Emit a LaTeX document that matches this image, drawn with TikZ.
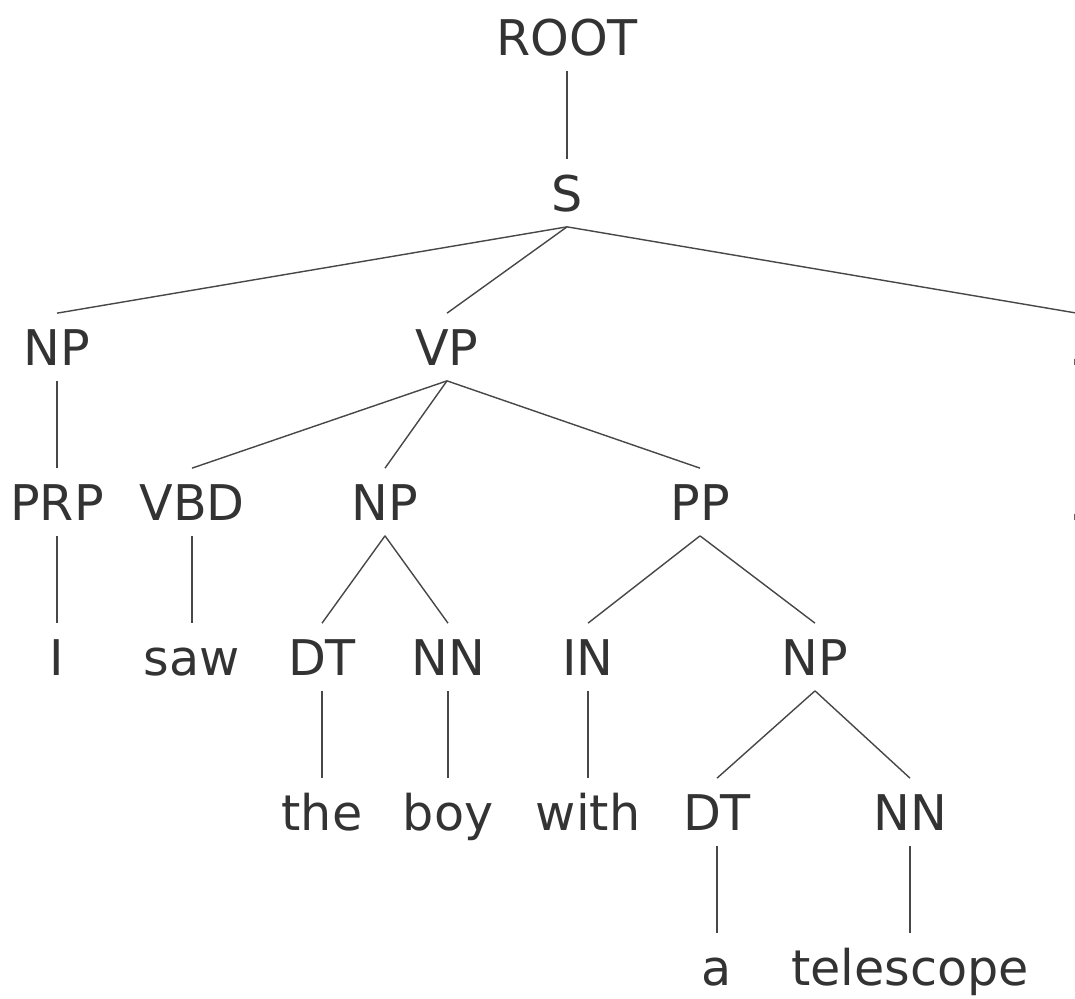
\documentclass[tikz,border=0pt]{standalone}
\usepackage{fontspec}
\setmainfont{DejaVu Sans}
\usetikzlibrary{positioning}
\definecolor{treeink}{HTML}{333333}

\begin{document}
\begin{tikzpicture}
    [
      x=0.02cm,
      y=-0.02cm,
      cat/.style=
        {
          inner xsep=0pt,
          inner ysep=0.31cm,
          text height=0.72cm,
          text depth=0pt,
          text=treeink,
          font=\fontsize{28}{34}\selectfont,
        },
      branch/.style=
        {
          draw=treeink!90,
          line width=0.8pt,
        }
    ]
    \useasboundingbox (0,0) rectangle (1075,998);
    \clip (0,0) rectangle (1075,998);

    % phrase level
    \node (root) [cat] at (567,37) {ROOT};
    \node (s) [cat] at (567,193) {S};
    \node (np) [cat] at (57,347) {NP};
    \node (vp) [cat] at (447,347) {VP};
    \node (dot) [cat] at (1077,347) {.};

    % tags
    \node (prp) [cat] at (57,502) {PRP};
    \node (vbd) [cat] at (192,502) {VBD};
    \node (npobj) [cat] at (385,502) {NP};
    \node (pp) [cat] at (700,502) {PP};
    \node (dottag) [cat] at (1077,502) {.};

    \node (wi) [cat] at (57,657) {I};
    \node (wsaw) [cat] at (192,657) {saw};
    \node (dtthe) [cat] at (322,657) {DT};
    \node (nnboy) [cat] at (448,657) {NN};
    \node (in) [cat] at (588,657) {IN};
    \node (nppobj) [cat] at (815,657) {NP};

    \node (wthe) [cat] at (322,812) {the};
    \node (wboy) [cat] at (448,812) {boy};
    \node (wwith) [cat] at (588,812) {with};
    \node (dta) [cat] at (717,812) {DT};
    \node (nntel) [cat] at (910,812) {NN};

    \node (wa) [cat] at (717,967) {a};
    \node (wtel) [cat] at (910,967) {telescope};

    % branches
    \foreach \a/\b in {root/s, s/np, s/vp, s/dot, np/prp, vp/vbd, vp/npobj,
                       vp/pp, dot/dottag, prp/wi, vbd/wsaw, npobj/dtthe,
                       npobj/nnboy, pp/in, pp/nppobj, dtthe/wthe, nnboy/wboy,
                       in/wwith, nppobj/dta, nppobj/nntel, dta/wa, nntel/wtel}
      \draw [branch] (\a.south) -- (\b.north);
  \end{tikzpicture}
\end{document}
